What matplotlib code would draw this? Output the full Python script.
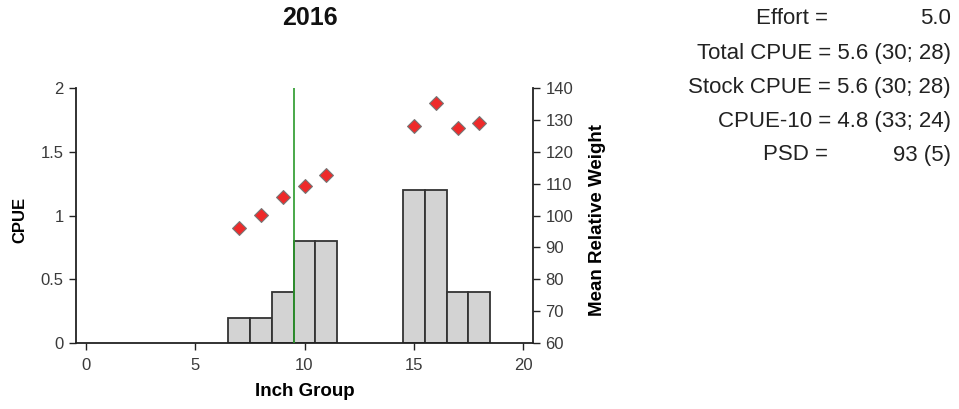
import numpy as np
import matplotlib
matplotlib.use("Agg")
import matplotlib.pyplot as plt

plt.rcParams['font.family'] = ['Liberation Sans', 'DejaVu Sans']

# length-frequency data for 2016
inch_group = [7, 8, 9, 10, 11, 15, 16, 17, 18]
cpue = [0.2, 0.2, 0.4, 0.8, 0.8, 1.2, 1.2, 0.4, 0.4]
wr_inch = [7, 8, 9, 10, 11, 15, 16, 17, 18]
mean_wr = [96, 100.3, 105.7, 109.4, 112.7, 128, 135.4, 127.6, 129]
stock_length = 9.5

summary_labels = ["Effort =", "Total CPUE = 5.6 (30; 28)", "Stock CPUE = 5.6 (30; 28)",
                  "CPUE-10 = 4.8 (33; 24)", "PSD ="]
summary_values = ["5.0", "", "", "", "93 (5)"]

fig = plt.figure(figsize=(9.59, 4.09), dpi=100)
W, H = 959, 409
ax = fig.add_axes([76 / W, (H - 343) / H, (533 - 76) / W, (343 - 88) / H])

tick_col = '#3a3a3a'
ax.bar(inch_group, cpue, width=1.0, color='#d3d3d3', edgecolor='#333333', linewidth=1.3, zorder=2)
ax.axvline(stock_length, color='#2a9a2a', linewidth=1.2, zorder=3)
ax.set_xlim(-0.45, 20.45)
ax.set_ylim(0, 2)
ax.set_xticks([0, 5, 10, 15, 20])
ax.set_yticks([0, 0.5, 1, 1.5, 2])
ax.set_yticklabels(['0', '0.5', '1', '1.5', '2'])
for s in ['top', 'right']:
    ax.spines[s].set_visible(False)
for s in ['left', 'bottom']:
    ax.spines[s].set_color('#222222')
    ax.spines[s].set_linewidth(1.3)
ax.tick_params(axis='both', colors='#222222', labelcolor=tick_col, labelsize=12, length=5, width=1, pad=4)
ax.tick_params(axis='x', pad=6)
ax.set_xlabel('Inch Group', fontsize=13.5, fontweight='bold', va='center')
ax.xaxis.set_label_coords(0.5, -0.192)
ax.set_ylabel('CPUE', fontsize=12, fontweight='bold', va='center')
ax.yaxis.set_label_coords(-0.122, 0.482)

ax2 = ax.twinx()
ax2.scatter(wr_inch, mean_wr, marker='D', s=50, color='#ee2a2a', edgecolor='#777777', linewidth=0.8, zorder=4)
ax2.set_ylim(60, 140)
ax2.set_yticks(np.arange(60, 141, 10))
for s in ['top', 'left', 'bottom']:
    ax2.spines[s].set_visible(False)
ax2.spines['right'].set_color('#222222')
ax2.spines['right'].set_linewidth(1.3)
ax2.tick_params(axis='y', colors='#222222', labelcolor=tick_col, labelsize=12, length=5, width=1, pad=4)
ax2.set_ylabel('Mean Relative Weight', fontsize=13.5, fontweight='bold', va='center', rotation=90)
ax2.yaxis.set_label_coords(1.142, 0.482)

fig.text(310 / W, 1 - 18 / H, '2016', ha='center', va='center', fontsize=18, fontweight='bold', color='#111111')

# summary statistics block, one row every 34 px
for i, (lab, val) in enumerate(zip(summary_labels, summary_values)):
    y = 1 - (19 + 34 * i) / H
    if val:
        fig.text(828 / W, y, lab, ha='right', va='center', fontsize=16, color='#222222')
        fig.text(951 / W, y, val, ha='right', va='center', fontsize=16, color='#222222')
    else:
        fig.text(951 / W, y, lab, ha='right', va='center', fontsize=16, color='#222222')

fig.savefig('out.png', dpi=100)
